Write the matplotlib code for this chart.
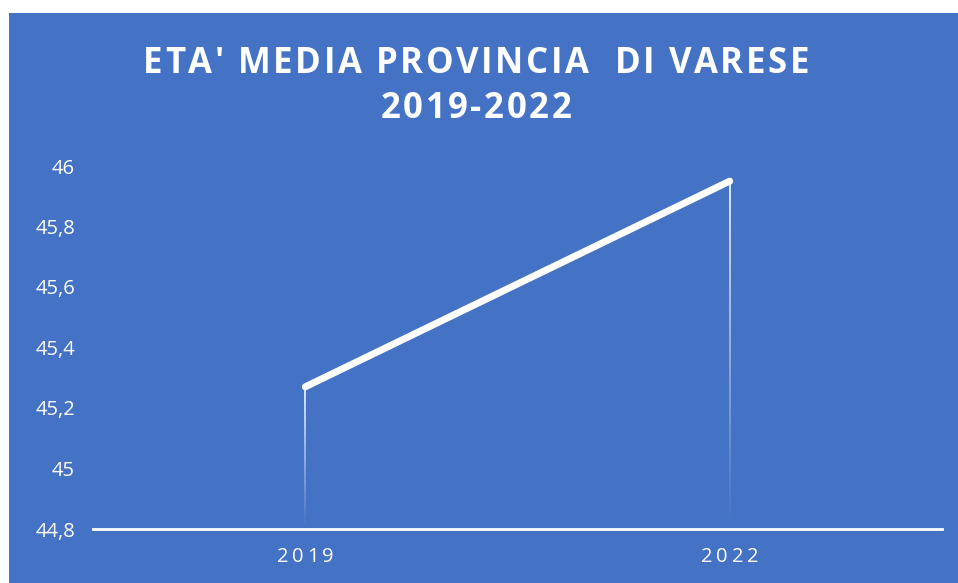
import numpy as np
import matplotlib
matplotlib.use("Agg")
import matplotlib.pyplot as plt
from matplotlib.collections import LineCollection
from matplotlib.ticker import FuncFormatter
from matplotlib.textpath import TextPath
from matplotlib.font_manager import FontProperties

years = ["2019", "2022"]
values = [45.27, 45.95]
yticks = [44.8, 45.0, 45.2, 45.4, 45.6, 45.8, 46.0]
title_lines = ["ETA' MEDIA PROVINCIA  DI VARESE", "2019-2022"]

BLUE = "#4472C4"
W, H = 958, 583
fig = plt.figure(figsize=(W / 100, H / 100), dpi=100)
fig.patch.set_facecolor("white")
bg = fig.add_axes([9 / W, 0, 1 - 9 / W, 1 - 13 / H], zorder=-5)
bg.set_facecolor(BLUE)
bg.set_xticks([]); bg.set_yticks([])
for s in bg.spines.values():
    s.set_visible(False)

ax = fig.add_axes([93 / W, (H - 529) / H, (942 - 93) / W, (529 - 166) / H], zorder=1)
ax.set_facecolor("none")
x = np.arange(len(years))
ax.set_xlim(-0.5, len(years) - 0.5)
ax.set_ylim(yticks[0], yticks[-1])

# drop lines with fading gradient
n = 60
for xi, v in zip(x, values):
    ys = np.linspace(v, yticks[0], n + 1)
    segs = [[(xi, ys[i]), (xi, ys[i + 1])] for i in range(n)]
    alphas = np.linspace(0.9, 0.0, n)
    cols = [(1, 1, 1, a) for a in alphas]
    ax.add_collection(LineCollection(segs, colors=cols, linewidths=1.3, zorder=2))

ax.plot(x, values, color="white", lw=5, solid_capstyle="round", zorder=3)

ax.set_yticks(yticks)
ax.yaxis.set_major_formatter(FuncFormatter(lambda v, p: ("%g" % round(v, 1)).replace(".", ",")))
ax.set_xticks(x)
ax.set_xticklabels([])
for s in ["top", "right", "left"]:
    ax.spines[s].set_visible(False)
ax.spines["bottom"].set_color("white")
ax.spines["bottom"].set_linewidth(2)
ax.spines["bottom"].set_zorder(4)
ax.tick_params(axis="both", length=0, colors="white", labelsize=14.5)
ax.tick_params(axis="y", pad=13)
for lab in ax.get_yticklabels():
    lab.set_family("Open Sans")

k = 100 / 72  # points -> pixels


def char_w(c, fp):
    if c == " ":
        return (TextPath((0, 0), "a a", prop=fp).get_extents().width
                - TextPath((0, 0), "aa", prop=fp).get_extents().width)
    return (TextPath((0, 0), "H" + c + "H", prop=fp).get_extents().width
            - TextPath((0, 0), "HH", prop=fp).get_extents().width)


def tracked(text, cx_px, cy_px, fp, track):
    widths = [char_w(c, fp) * k for c in text]
    total = sum(widths) + track * (len(text) - 1)
    xpos = cx_px - total / 2
    for c, w in zip(text, widths):
        fig.text(xpos / W, 1 - cy_px / H, c, ha="left", va="center",
                 color="white", fontproperties=fp)
        xpos += w + track


fp_title = FontProperties(family="Open Sans", weight="bold", size=25)
for line, cy in zip(title_lines, [64, 109]):
    tracked(line, 476, cy, fp_title, 2.6)

fp_x = FontProperties(family="Open Sans", size=14.5)
for xi, lab in zip(x, years):
    px = ax.transData.transform((xi, yticks[0]))[0]
    tracked(lab, px, 557, fp_x, 3.5)

fig.savefig("out.png", dpi=100, facecolor=fig.get_facecolor())
